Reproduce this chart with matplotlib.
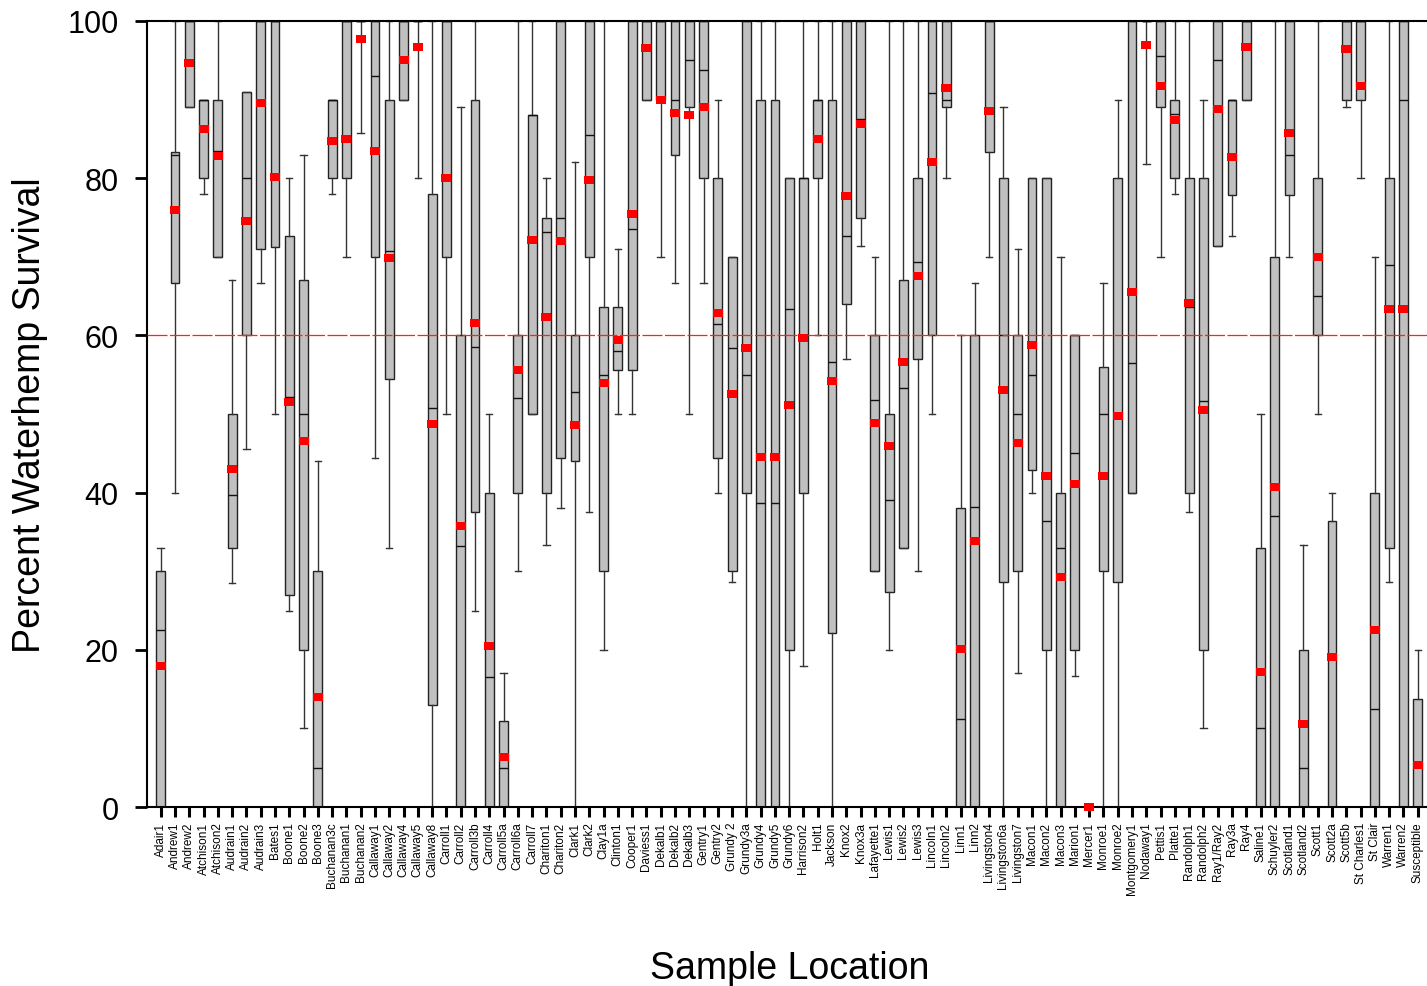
import matplotlib
matplotlib.use("Agg")
import matplotlib.pyplot as plt

plt.rcParams['font.family'] = ['Liberation Sans', 'DejaVu Sans']

labels = ["Adair1", "Andrew1", "Andrew2", "Atchison1", "Atchison2", "Audrain1", "Audrain2",
          "Audrain3", "Bates1", "Boone1", "Boone2", "Boone3", "Buchanan3c", "Buchanan1",
          "Buchanan2", "Callaway1", "Callaway2", "Callaway4", "Callaway5", "Callaway8",
          "Carroll1", "Carroll2", "Carroll3b", "Carroll4", "Carroll5a", "Carroll6a", "Carroll7",
          "Chariton1", "Chariton2", "Clark1", "Clark2", "Clay1a", "Clinton1", "Cooper1",
          "Daviess1", "Dekalb1", "Dekalb2", "Dekalb3", "Gentry1", "Gentry2", "Grundy 2",
          "Grundy3a", "Grundy4", "Grundy5", "Grundy6", "Harrison2", "Holt1", "Jackson",
          "Knox2", "Knox3a", "Lafayette1", "Lewis1", "Lewis2", "Lewis3", "Lincoln1",
          "Lincoln2", "Linn1", "Linn2", "Livingston4", "Livingston6a", "Livingston7",
          "Macon1", "Macon2", "Macon3", "Marion1", "Mercer1", "Monroe1", "Monroe2",
          "Montgomery1", "Nodaway1", "Pettis1", "Platte1", "Randolph1", "Randolph2",
          "Ray1/Ray2", "Ray3a", "Ray4", "Saline1", "Schuyler2", "Scotland1", "Scotland2",
          "Scott1", "Scott2a", "Scott5b", "St Charles1", "St Clair", "Warren1", "Warren2",
          "Susceptible"]

whislo = [0, 40, 89, 78, 70, 28.5, 45.5, 66.7, 50, 25, 10, 0, 78, 70, 85.7, 44.4, 33, 90, 80, 0,
          50, 0, 25, 0, 0, 30, 50, 33.3, 38, 0, 37.5, 20, 50, 50, 90, 70, 66.7, 50, 66.7, 40,
          28.6, 0, 0, 0, 0, 18, 60, 0, 57, 71.4, 30, 20, 33, 30, 50, 80, 0, 0, 70, 0,
          17, 40, 0, 0, 16.7, 0, 0, 0, 40, 81.8, 70, 78, 37.5, 10, 71.4, 72.7, 90, 0, 0, 70,
          0, 50, 0, 89, 80, 0, 28.6, 0, 0]
q1 = [0, 66.7, 89, 80, 70, 33, 60, 71, 71.3, 27, 20, 0, 80, 80, 100, 70, 54.5, 90, 100, 13,
      70, 0, 37.5, 0, 0, 40, 50, 40, 44.4, 44, 70, 30, 55.6, 55.6, 90, 90, 83, 89, 80, 44.4,
      30, 40, 0, 0, 20, 40, 80, 22.2, 64, 75, 30, 27.3, 33, 57, 60, 89, 0, 0, 83.3, 28.6,
      30, 42.9, 20, 0, 20, 0, 30, 28.6, 40, 100, 89, 80, 40, 20, 71.4, 77.8, 90, 0, 0, 77.8,
      0, 60, 0, 90, 90, 0, 33, 0, 0]
med = [22.5, 83, 100, 90, 83.5, 39.7, 80, 100, 100, 52.1, 50, 5, 90, 100, 100, 93, 70.7, 100, 100, 50.8,
       100, 33.2, 58.5, 16.5, 5, 52, 88, 73.2, 75, 52.8, 85.5, 55, 58, 73.5, 100, 100, 90, 95, 93.8, 61.5,
       58.4, 55, 38.7, 38.7, 63.4, 80, 90, 56.6, 72.6, 87.5, 51.8, 39, 53.3, 69.3, 90.8, 90, 11.2, 38.2, 100, 60,
       50, 55, 36.4, 32.9, 45, 0, 50, 50, 56.5, 100, 95.5, 88.2, 63.6, 51.6, 95, 90, 100, 10, 37, 83,
       5, 65, 19, 100, 100, 12.5, 69, 90, 5.4]
q3 = [30, 83.3, 100, 90, 90, 50, 91, 100, 100, 72.6, 67, 30, 90, 100, 100, 100, 90, 100, 100, 78,
      100, 60, 90, 40, 11, 60, 88, 75, 100, 60, 100, 63.6, 63.6, 100, 100, 100, 100, 100, 100, 80,
      70, 100, 90, 90, 80, 80, 90, 90, 100, 100, 60, 50, 67, 80, 100, 100, 38, 60, 100, 80,
      60, 80, 80, 40, 60, 0, 56, 80, 100, 100, 100, 90, 80, 80, 100, 90, 100, 33, 70, 100,
      20, 80, 36.4, 100, 100, 40, 80, 100, 13.8]
whishi = [33, 100, 100, 90, 100, 67, 91, 100, 100, 80, 83, 44, 90, 100, 100, 100, 100, 100, 100, 100,
          100, 89, 100, 50, 17, 100, 100, 80, 100, 82, 100, 100, 71, 100, 100, 100, 100, 100, 100, 90,
          70, 100, 100, 100, 80, 100, 100, 100, 100, 100, 70, 100, 100, 100, 100, 100, 60, 66.7, 100, 89,
          71, 80, 80, 70, 60, 0, 66.7, 90, 100, 100, 100, 100, 100, 90, 100, 90, 100, 50, 100, 100,
          33.3, 100, 40, 100, 100, 70, 100, 100, 20]
means = [18, 76, 94.7, 86.3, 82.8, 43, 74.6, 89.6, 80.1, 51.5, 46.6, 14, 84.7, 85, 97.7, 83.4, 69.9, 95.1, 96.7, 48.7,
         80, 35.8, 61.6, 20.5, 6.3, 55.6, 72.1, 62.4, 72, 48.6, 79.8, 54, 59.4, 75.4, 96.6, 90, 88.3, 88.1, 89, 62.9,
         52.6, 58.4, 44.5, 44.5, 51.1, 59.7, 85, 54.2, 77.7, 86.9, 48.9, 45.9, 56.6, 67.6, 82, 91.5, 20.1, 33.8, 88.5, 53,
         46.3, 58.8, 42.1, 29.3, 41.1, 0, 42.1, 49.8, 65.5, 96.9, 91.7, 87.4, 64.1, 50.5, 88.8, 82.7, 96.7, 17.2, 40.7, 85.7,
         10.5, 70, 19.1, 96.5, 91.7, 22.5, 63.3, 63.3, 5.4]
threshold = 60

stats = []
for i in range(len(labels)):
    stats.append(dict(label=labels[i], whislo=whislo[i], q1=q1[i], med=med[i],
                      q3=q3[i], whishi=whishi[i], fliers=[]))

W, H = 1427, 987
fig = plt.figure(figsize=(W / 100, H / 100), dpi=100)
ax = fig.add_axes([147 / W, 1 - 808 / H, (1427 - 147) / W, (808 - 22) / H])

positions = list(range(1, len(labels) + 1))
ax.bxp(stats, positions=positions, widths=0.62, capwidths=0.45, patch_artist=True,
       showfliers=False, manage_ticks=False,
       boxprops=dict(facecolor='#c0c0c0', edgecolor='#222222', linewidth=1.0),
       medianprops=dict(color='#111111', linewidth=1.0),
       whiskerprops=dict(color='#333333', linewidth=1.0),
       capprops=dict(color='#333333', linewidth=1.0))

ax.axhline(threshold, color='#ff2020', linewidth=0.9, dashes=(16, 2), zorder=4)

rect = [(-1.3, -1), (1.3, -1), (1.3, 1), (-1.3, 1), (-1.3, -1)]
ax.plot(positions, means, linestyle='none', marker=rect, markersize=7,
        color='red', markeredgewidth=0, zorder=5, clip_on=False)

ax.set_xlim(0.04, 89.65)
ax.set_ylim(0, 100)
ax.set_yticks([0, 20, 40, 60, 80, 100])
ax.set_xticks(positions)
ax.set_xticklabels(labels, rotation=90, fontsize=8.5)
ax.tick_params(axis='y', labelsize=22, length=8.5, width=2, direction='out', pad=12)
ax.tick_params(axis='x', length=7.5, width=2.2, direction='out', pad=3)

for s in ['left', 'top', 'bottom']:
    ax.spines[s].set_linewidth(1.5)
ax.spines['right'].set_visible(False)

fig.text(30 / W, 1 - 415 / H, "Percent Waterhemp Survival", fontsize=27,
         rotation=90, ha='center', va='center')
fig.text(790 / W, 1 - 969 / H, "Sample Location", fontsize=27, ha='center', va='center')

fig.savefig("out.png", dpi=100)
